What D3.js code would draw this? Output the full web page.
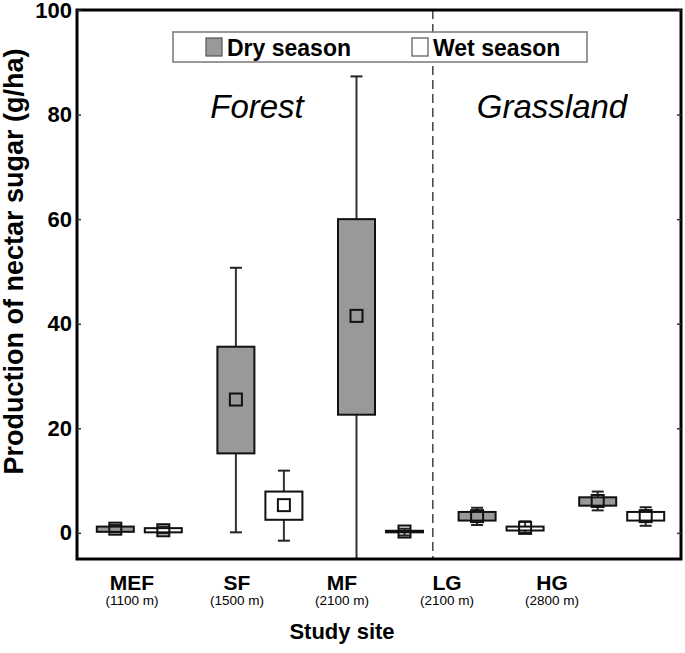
<!DOCTYPE html>
<html>
<head>
<meta charset="utf-8">
<script src="https://cdn.jsdelivr.net/npm/d3@7"></script>
<style>
  body { margin: 0; background: #fff; }
  text { font-family: "Liberation Sans", Arial, sans-serif; }
</style>
</head>
<body>
<div id="chart"></div>
<script>
const sites = ["MEF", "SF", "MF", "LG", "HG"];
const elevations = ["(1100 m)", "(1500 m)", "(2100 m)", "(2100 m)", "(2800 m)"];
const seasons = ["Dry season", "Wet season"];
const yTicks = [0, 20, 40, 60, 80, 100];

// dry season: whisker min, q1, q3, whisker max, mean
const dryMin  = [0.1, 0.1, -5, 1.5, 4.3];
const dryQ1   = [0.2, 15.2, 22.6, 2.35, 5.2];
const dryQ3   = [1.2, 35.6, 60.0, 4.0, 6.8];
const dryMax  = [1.5, 50.7, 87.3, 4.8, 7.9];
const dryMean = [0.8, 25.5, 41.5, 3.2, 6.1];

// wet season
const wetMin  = [-0.1, -1.5, -0.5, 0.0, 1.35];
const wetQ1   = [0.1, 2.5, 0.1, 0.45, 2.35];
const wetQ3   = [0.9, 7.9, 0.4, 1.2, 4.0];
const wetMax  = [1.2, 11.9, 0.8, 2.2, 4.9];
const wetMean = [0.5, 5.3, 0.25, 0.95, 3.2];

const width = 685, height = 653;
const margin = {top: 10, right: 4, bottom: 94, left: 77};

const svg = d3.select("#chart").append("svg")
  .attr("width", width)
  .attr("height", height);

const x = d3.scaleBand().domain(sites).range([margin.left + 2, width - margin.right + 1]);
const sx = d3.scalePoint().domain(seasons).range([-24, 24]);
const xLabel = d3.scalePoint().domain(sites).range([132, 552]);
const y = d3.scaleLinear().domain([-5, 100]).range([height - margin.bottom, margin.top]);

const boxW = 37, capW = 12, meanS = 12;

const rows = [];
sites.forEach((s, i) => {
  rows.push({site: s, season: seasons[0], fill: "#999", min: dryMin[i], q1: dryQ1[i], q3: dryQ3[i], max: dryMax[i], mean: dryMean[i]});
  rows.push({site: s, season: seasons[1], fill: "#fff", min: wetMin[i], q1: wetQ1[i], q3: wetQ3[i], max: wetMax[i], mean: wetMean[i]});
});
const cx = (d) => x(d.site) + x.bandwidth() / 2 + sx(d.season);

// forest / grassland divider
const divX = x("LG") - 8;
svg.append("line")
  .attr("x1", divX).attr("x2", divX)
  .attr("y1", y(100)).attr("y2", y(-5))
  .attr("stroke", "#444")
  .attr("stroke-width", 1.5)
  .attr("stroke-dasharray", "9,5");

svg.append("text")
  .attr("x", 257).attr("y", 118)
  .attr("text-anchor", "middle")
  .style("font-style", "italic")
  .style("font-size", "33px")
  .text("Forest");

svg.append("text")
  .attr("x", 552).attr("y", 118)
  .attr("text-anchor", "middle")
  .style("font-style", "italic")
  .style("font-size", "33px")
  .text("Grassland");

const g = svg.append("g");

// whiskers
g.selectAll(".whisk").data(rows).enter().append("line")
  .attr("x1", cx).attr("x2", cx)
  .attr("y1", (d) => y(d.min)).attr("y2", (d) => y(d.max))
  .attr("stroke", "#333").attr("stroke-width", 2);

["min", "max"].forEach((k) => {
  g.selectAll(".cap-" + k).data(rows).enter().append("line")
    .attr("x1", (d) => cx(d) - capW / 2).attr("x2", (d) => cx(d) + capW / 2)
    .attr("y1", (d) => y(d[k])).attr("y2", (d) => y(d[k]))
    .attr("stroke", "#222").attr("stroke-width", 2);
});

// boxes
g.selectAll(".box").data(rows).enter().append("rect")
  .attr("x", (d) => cx(d) - boxW / 2)
  .attr("width", boxW)
  .attr("y", (d) => y(d.q3))
  .attr("height", (d) => Math.max(1, y(d.q1) - y(d.q3)))
  .attr("fill", (d) => d.fill)
  .attr("stroke", "#111").attr("stroke-width", 2);

// mean markers
g.selectAll(".mean").data(rows).enter().append("rect")
  .attr("x", (d) => cx(d) - meanS / 2)
  .attr("y", (d) => y(d.mean) - meanS / 2)
  .attr("width", meanS).attr("height", meanS)
  .attr("fill", "none")
  .attr("stroke", "#111").attr("stroke-width", 2);

// frame
svg.append("rect")
  .attr("x", margin.left).attr("y", margin.top)
  .attr("width", width - margin.left - margin.right)
  .attr("height", height - margin.top - margin.bottom)
  .attr("fill", "none")
  .attr("stroke", "#000").attr("stroke-width", 3);

// y axis, ticks inside on both sides
const yAxis = svg.append("g")
  .attr("transform", `translate(${margin.left},0)`)
  .call(d3.axisLeft(y).tickValues(yTicks).tickSize(-4).tickPadding(5));
yAxis.select(".domain").remove();
yAxis.selectAll(".tick line").attr("stroke", "#333").attr("stroke-width", 1.5);
yAxis.selectAll(".tick text")
  .style("font-size", "22px").style("font-weight", "bold")
  .style("font-family", "Liberation Sans, Arial, sans-serif")
  .attr("fill", "#000");

const yAxisR = svg.append("g")
  .attr("transform", `translate(${width - margin.right},0)`)
  .call(d3.axisRight(y).tickValues(yTicks).tickSize(-4).tickFormat(""));
yAxisR.select(".domain").remove();
yAxisR.selectAll(".tick line").attr("stroke", "#333").attr("stroke-width", 1.5);

svg.append("text")
  .attr("transform", `translate(23,${(y(100) + y(-5)) / 2 - 23}) rotate(-90)`)
  .attr("text-anchor", "middle")
  .style("font-size", "27px").style("font-weight", "bold")
  .text("Production of nectar sugar (g/ha)");

// x labels
svg.selectAll(".site").data(sites).enter().append("text")
  .attr("x", (d) => xLabel(d)).attr("y", 590)
  .attr("text-anchor", "middle")
  .style("font-size", "21px").style("font-weight", "bold")
  .text((d) => d);

svg.selectAll(".elev").data(elevations).enter().append("text")
  .attr("x", (d, i) => xLabel(sites[i])).attr("y", 605)
  .attr("text-anchor", "middle")
  .style("font-size", "13.5px")
  .text((d) => d);

svg.append("text")
  .attr("x", 342).attr("y", 639)
  .attr("text-anchor", "middle")
  .style("font-size", "22px").style("font-weight", "bold")
  .text("Study site");

// legend
const leg = svg.append("g");
leg.append("rect")
  .attr("x", 173).attr("y", 32).attr("width", 414).attr("height", 30)
  .attr("fill", "#fff").attr("stroke", "#777").attr("stroke-width", 1.5);
const legX = d3.scalePoint().domain(seasons).range([206, 412]);
leg.selectAll(".sw").data(seasons).enter().append("rect")
  .attr("x", (d) => legX(d)).attr("y", 38)
  .attr("width", 16).attr("height", 18)
  .attr("fill", (d, i) => i === 0 ? "#999" : "#fff")
  .attr("stroke", "#555").attr("stroke-width", 1.2);
leg.selectAll(".lt").data(seasons).enter().append("text")
  .attr("x", (d) => legX(d) + 21).attr("y", 56)
  .style("font-size", "23px").style("font-weight", "bold")
  .text((d) => d);
</script>
</body>
</html>
